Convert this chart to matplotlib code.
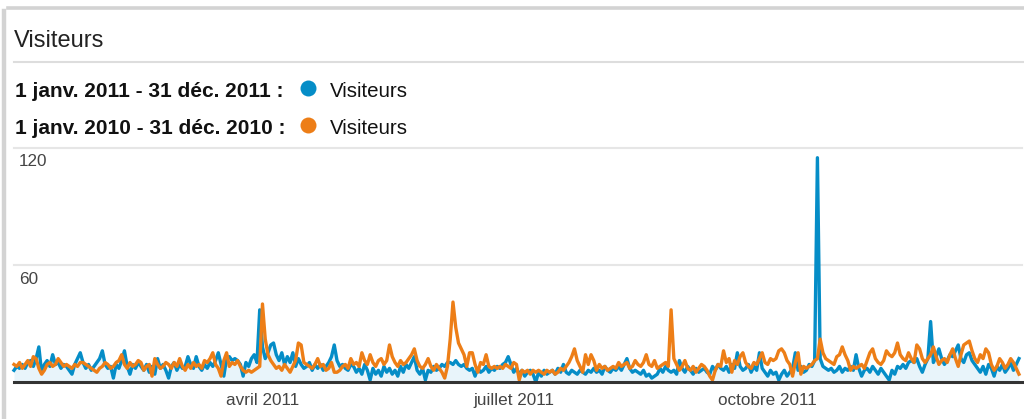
import matplotlib
matplotlib.use("Agg")
import matplotlib.pyplot as plt
from matplotlib.lines import Line2D
import numpy as np

plt.rcParams['font.family'] = ['Liberation Sans', 'DejaVu Sans']

# ---------------- data ----------------
title = "Visiteurs"
series_labels = ["1 janv. 2011 - 31 déc. 2011 :", "1 janv. 2010 - 31 déc. 2010 :"]
series_names = ["Visiteurs", "Visiteurs"]
colors = ["#058DC7", "#ED7E17"]

visitors_2011 = [
    6, 8, 7, 9, 7, 10, 11, 8, 12, 18,
    5, 9, 11, 8, 14, 9, 10, 7, 9, 8,
    6, 4, 9, 12, 15, 10, 7, 9, 6, 8,
    10, 12, 16, 9, 7, 8, 2, 9, 7, 11,
    16, 8, 4, 9, 7, 10, 8, 6, 9, 5,
    8, 4, 12, 7, 9, 6, 2, 8, 10, 6,
    9, 7, 8, 13, 9, 7, 13, 8, 6, 9,
    7, 10, 8, 11, 15, 9, 3, 12, 13, 11,
    12, 11, 9, 3, 10, 8, 12, 14, 10, 37,
    18, 12, 15, 19, 20, 14, 11, 15, 9, 13,
    10, 15, 8, 12, 9, 7, 8, 10, 6, 9,
    7, 9, 6, 8, 10, 13, 19, 11, 8, 9,
    7, 6, 9, 8, 5, 7, 4, 9, 6, 1,
    7, 4, 6, 3, 8, 5, 7, 4, 6, 3,
    8, 5, 9, 7, 10, 13, 6, 4, 7, 1,
    6, 5, 8, 6, 7, 9, 8, 10, 10, 9,
    11, 9, 8, 9, 7, 6, 7, 3, 7, 5,
    6, 8, 5, 7, 6, 8, 7, 9, 10, 13,
    9, 5, 7, 4, 6, 3, 5, 6, 4, 0,
    5, 3, 6, 4, 5, 6, 4, 7, 5, 9,
    5, 4, 6, 5, 4, 6, 5, 4, 6, 5,
    7, 5, 6, 4, 8, 6, 5, 7, 6, 8,
    6, 9, 12, 7, 5, 6, 5, 4, 6, 3,
    4, 2, 3, 4, 7, 5, 8, 6, 5, 6,
    4, 11, 7, 5, 8, 6, 4, 7, 5, 6,
    7, 5, 4, 8, 6, 9, 7, 6, 8, 5,
    9, 7, 15, 8, 6, 7, 9, 5, 8, 6,
    15, 7, 5, 3, 6, 4, 5, 1, 4, 6,
    3, 5, 7, 15, 6, 8, 5, 6, 9, 8,
    11, 115, 12, 8, 7, 6, 7, 5, 6, 8,
    5, 7, 6, 8, 6, 14, 7, 3, 6, 7,
    5, 8, 6, 4, 7, 5, 3, 1, 6, 4,
    8, 7, 9, 7, 10, 11, 10, 12, 8, 5,
    9, 12, 31, 10, 13, 17, 12, 9, 11, 14,
    13, 16, 19, 12, 10, 14, 15, 11, 9, 7,
    5, 8, 4, 9, 7, 3, 8, 6, 9, 5,
    7, 10, 6, 9, 12,
]

visitors_2010 = [
    9, 8, 10, 7, 9, 11, 8, 13, 12, 7,
    4, 6, 9, 10, 8, 9, 12, 10, 8, 9,
    8, 7, 9, 8, 10, 10, 9, 8, 7, 6,
    5, 7, 8, 10, 9, 7, 8, 10, 11, 14,
    9, 7, 10, 8, 9, 11, 10, 6, 8, 9,
    3, 12, 9, 7, 8, 10, 9, 7, 10, 8,
    12, 8, 6, 9, 7, 10, 8, 9, 7, 11,
    10, 12, 15, 9, 7, 3, 11, 15, 8, 10,
    9, 11, 8, 6, 5, 6, 5, 6, 7, 8,
    40, 22, 14, 11, 9, 7, 8, 6, 9, 7,
    5, 8, 11, 20, 19, 10, 9, 8, 7, 9,
    12, 8, 9, 6, 7, 10, 5, 5, 6, 8,
    9, 7, 12, 9, 10, 8, 15, 11, 9, 14,
    10, 8, 11, 12, 9, 11, 19, 13, 10, 8,
    11, 9, 10, 12, 14, 17, 11, 8, 7, 9,
    12, 8, 6, 9, 7, 5, 2, 8, 22, 41,
    28, 20, 17, 14, 8, 15, 15, 9, 5, 10,
    9, 14, 8, 7, 8, 7, 8, 7, 9, 8,
    7, 10, 9, 1, 6, 5, 6, 4, 6, 5,
    6, 5, 4, 6, 5, 6, 4, 5, 7, 6,
    8, 10, 13, 17, 11, 8, 5, 14, 9, 14,
    11, 6, 9, 7, 8, 6, 7, 8, 7, 10,
    8, 9, 10, 7, 8, 11, 9, 8, 10, 14,
    9, 8, 11, 7, 8, 9, 10, 8, 37, 12,
    9, 6, 8, 11, 7, 6, 8, 5, 7, 9,
    8, 6, 3, 1, 6, 9, 8, 16, 10, 12,
    5, 11, 9, 13, 15, 10, 8, 7, 10, 9,
    12, 15, 10, 9, 12, 11, 12, 16, 17, 15,
    11, 9, 3, 10, 15, 4, 8, 7, 8, 9,
    11, 12, 22, 15, 12, 11, 10, 9, 13, 14,
    18, 14, 11, 6, 8, 7, 8, 9, 7, 11,
    15, 17, 12, 10, 9, 11, 16, 14, 13, 15,
    20, 14, 12, 11, 15, 12, 10, 19, 17, 12,
    10, 12, 14, 18, 13, 9, 11, 12, 10, 14,
    17, 12, 8, 14, 19, 20, 21, 16, 12, 10,
    14, 12, 17, 15, 9, 6, 8, 12, 10, 7,
    9, 12, 10, 7, 4,
]

tick_days = [90, 181, 273]
tick_labels = ["avril 2011", "juillet 2011", "octobre 2011"]
y_gridlines = [60, 120]
y_labels = ["60", "120"]

# ---------------- figure ----------------
W, H = 1024, 419
fig = plt.figure(figsize=(W / 100, H / 100), dpi=100)
fig.patch.set_facecolor("white")

def fx(x):
    return x / W

def fy(y):
    return 1 - y / H

# card border
fig.add_artist(Line2D([fx(4), fx(4)], [fy(11), fy(419)], color="#d3d3d3", lw=3.2))
fig.add_artist(Line2D([fx(8), fx(1024)], [fy(8.5), fy(8.5)], color="#d3d3d3", lw=2.6))

# title and separator
fig.text(fx(14), fy(47), title, fontsize=17, color="#222222", va="baseline", ha="left")
fig.add_artist(Line2D([fx(14), fx(1024)], [fy(62), fy(62)], color="#dddddd", lw=1.5))

# legend rows
row_base = [96.5, 133.5]
dot_y = [88, 125]
for lab, name, c, yb, yd in zip(series_labels, series_names, colors, row_base, dot_y):
    fig.text(fx(15), fy(yb), lab, fontsize=15, fontweight="bold", color="#111111",
             va="baseline", ha="left")
    fig.add_artist(Line2D([fx(308)], [fy(yd)], marker="o", markersize=11.5,
                          color=c, markeredgewidth=0, linestyle="none"))
    fig.text(fx(330), fy(yb), name, fontsize=14.8, color="#111111", va="baseline", ha="left")

# axes
ax_left, ax_right = 14, 1022
ax_bottom, ax_top = 382, 148
ax = fig.add_axes([fx(ax_left), fy(ax_bottom), (ax_right - ax_left) / W, (ax_bottom - ax_top) / H])
ax.set_facecolor("none")

days = np.arange(len(visitors_2011))
ax.set_xlim(0, 365.1)
ax.set_ylim(0, 120)

for v in y_gridlines:
    ax.axhline(v, color="#e6e6e6", lw=1.5, zorder=0.5, clip_on=False)

ax.fill_between(days, visitors_2011, 0, color="#e8f4fa", lw=0, zorder=1)
ax.plot(days, visitors_2011, color=colors[0], lw=2.4, zorder=2, clip_on=False)
ax.plot(np.arange(len(visitors_2010)), visitors_2010, color=colors[1], lw=2.4, zorder=3,
        clip_on=False)
ax.axhline(0, color="#333333", lw=2.2, zorder=4, clip_on=False)

for v, lab in zip(y_gridlines, y_labels):
    ax.annotate(lab, xy=(0, v), xycoords=("axes fraction", "data"),
                xytext=(5, -18.5), textcoords="offset pixels",
                fontsize=12.3, color="#444444", ha="left", va="baseline")

ax.set_xticks(tick_days)
ax.set_xticklabels(tick_labels, fontsize=12.3, color="#444444")
ax.tick_params(axis="x", length=0, pad=8)
ax.set_yticks([])
for s in ax.spines.values():
    s.set_visible(False)

fig.savefig("out.png", dpi=100, facecolor="white")
